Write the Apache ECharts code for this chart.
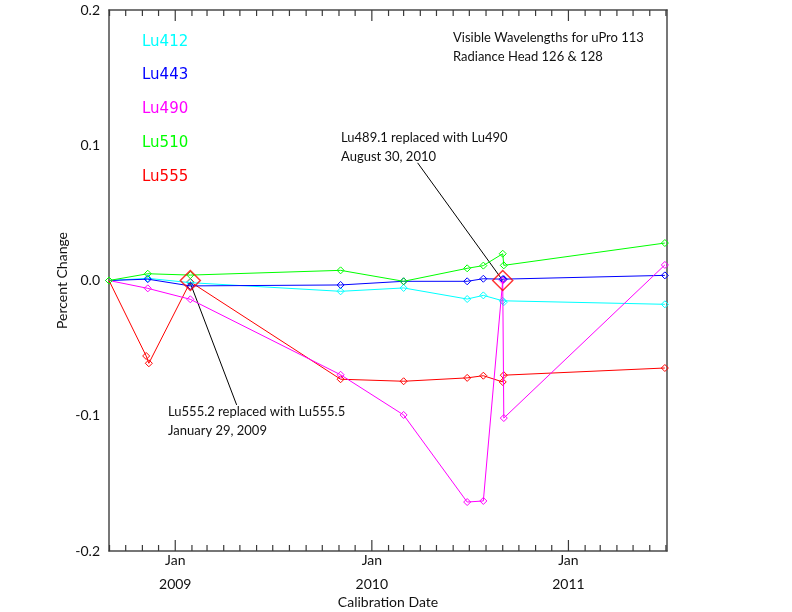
<!DOCTYPE html>
<html>
<head>
<meta charset="utf-8">
<script src="https://cdn.jsdelivr.net/npm/echarts@6/dist/echarts.min.js"></script>
<style>
html,body{margin:0;padding:0;background:#fff;}
#chart{width:792px;height:612px;}
</style>
</head>
<body>
<div id="chart"></div>
<script>
// ---- data ----
var dates = ['2008-08-31','2008-11-11','2009-01-29','2009-11-04','2010-03-01','2010-06-27','2010-07-27','2010-09-01','2010-09-03','2011-06-29'];
var lu412 = [0, 0.0016, -0.0016, -0.008, -0.0055, -0.0137, -0.011, -0.015, -0.016, -0.0176];
var lu443 = [0, 0.001, -0.004, -0.0033, -0.0006, -0.0006, 0.0013, 0.001, 0.001, 0.0038];
var lu490 = [0, -0.0058, -0.0139, -0.0697, -0.0994, -0.1638, -0.163, 0, -0.1017, 0.0115];
var lu510 = [0, 0.005, 0.004, 0.0075, -0.0006, 0.009, 0.011, 0.0198, 0.0112, 0.0277];
var redDates = ['2008-08-31','2008-11-08','2008-11-13','2009-01-29','2009-11-04','2010-03-01','2010-06-27','2010-07-27','2010-09-01','2010-09-03','2011-06-29'];
var lu555 = [0, -0.0558, -0.0612, -0.001, -0.073, -0.0745, -0.072, -0.0704, -0.075, -0.070, -0.0647];
var replaceDates = ['2009-01-29', '2010-09-01'];
var replaceValues = [0, 0];
var note1Line = [['2009-01-29', -0.002], ['2009-04-25', -0.092]];
var note2Line = [['2010-09-01', 0.0], ['2010-03-27', 0.087]];
var seriesNames = ['Lu412','Lu443','Lu490','Lu510','Lu555'];
var seriesColors = ['#00ffff','#0000ff','#ff00ff','#00ff00','#ff0000'];
var xMin = '2008-08-31', xMax = '2011-07-03';
var yMin = -0.2, yMax = 0.2, yStep = 0.1;
var janTicks = ['2009-01-01','2010-01-01','2011-01-01'];

// ---- helpers ----
function t(d) { return Date.parse(d + 'T00:00:00Z'); }
function pair(ds, vs){ return ds.map(function(d,i){ return [t(d), vs[i]]; }); }
var monthTicks = [];
for (var y = 2008; y <= 2011; y++) {
  for (var m = 1; m <= 12; m++) {
    var s = y + '-' + (m < 10 ? '0' + m : m) + '-01';
    if (s > xMin && s < xMax) monthTicks.push([t(s), yMin]);
  }
}
var janT = janTicks.map(t);
var FONT = 'Lato';
var axisColor = '#4a4a4a';

var series = [];
var valueArrays = [lu412, lu443, lu490, lu510];
for (var i = 0; i < 4; i++) {
  series.push({
    name: seriesNames[i], type: 'line', data: pair(dates, valueArrays[i]),
    symbol: 'diamond', symbolSize: 7, showAllSymbol: true,
    lineStyle: { color: seriesColors[i], width: 1 },
    itemStyle: { color: 'rgba(0,0,0,0)', borderColor: seriesColors[i], borderWidth: 1 },
    animation: false, z: 3 + i
  });
}
series.push({
  name: 'Lu555', type: 'line', data: pair(redDates, lu555),
  symbol: 'diamond', symbolSize: 7, showAllSymbol: true,
  lineStyle: { color: seriesColors[4], width: 1 },
  itemStyle: { color: 'rgba(0,0,0,0)', borderColor: seriesColors[4], borderWidth: 1 },
  animation: false, z: 2
});
series.push({
  name: 'replaced', type: 'scatter', data: pair(replaceDates, replaceValues),
  symbol: 'diamond', symbolSize: 20,
  itemStyle: { color: 'rgba(0,0,0,0)', borderColor: '#ff0000', borderWidth: 1.5 },
  animation: false, z: 10
});
[note1Line, note2Line].forEach(function (d) {
  series.push({
    type: 'line', data: d.map(function (p) { return [t(p[0]), p[1]]; }), symbol: 'none', silent: true,
    lineStyle: { color: '#000', width: 1 }, animation: false, z: 1
  });
});
// month ticks (top and bottom, inside), Jan ticks longer
series.push({
  type: 'custom', data: monthTicks,
  silent: true, clip: false, animation: false, z: 20,
  renderItem: function (params, api) {
    var v = api.value(0);
    var len = new Date(v).getUTCMonth() === 0 ? 11 : 6;
    var b = api.coord([v, yMin]);
    var tp = api.coord([v, yMax]);
    var st = { stroke: '#3a3a3a', lineWidth: 1.2 };
    return { type: 'group', children: [
      { type: 'line', shape: { x1: b[0], y1: b[1], x2: b[0], y2: b[1] - len }, style: st },
      { type: 'line', shape: { x1: tp[0], y1: tp[1], x2: tp[0], y2: tp[1] + len }, style: st }
    ] };
  }
});

var graphics = [];
var legendY = [40, 73, 107, 141, 175];
seriesNames.forEach(function (n, i) {
  graphics.push({ type: 'text', left: 142, top: legendY[i] - 5,
    style: { text: n, fill: seriesColors[i], font: '15px "DejaVu Sans"' } });
});
function note(x, y, lines) {
  graphics.push({ type: 'text', left: x, top: y,
    style: { text: lines.join('\n'), fill: '#111', font: '13px ' + FONT, lineHeight: 19 } });
}
note(453, 28, ['Visible Wavelengths for uPro 113', 'Radiance Head 126 & 128']);
note(341, 128, ['Lu489.1 replaced with Lu490', 'August 30, 2010']);
note(168, 402, ['Lu555.2 replaced with Lu555.5', 'January 29, 2009']);

var chart = echarts.init(document.getElementById('chart'), null, { renderer: 'canvas' });
chart.setOption({
  backgroundColor: '#fff',
  animation: false,
  grid: { left: 109, right: 125, top: 10, bottom: 61, containLabel: false, outerBoundsMode: 'none' },
  xAxis: [
    {
      type: 'value', position: 'bottom', min: t(xMin), max: t(xMax),
      axisLine: { show: true, onZero: false, lineStyle: { color: axisColor, width: 1.5 } },
      axisTick: { show: false },
      axisLabel: {
        show: true, customValues: janT, fontFamily: FONT, fontSize: 14, color: '#111',
        lineHeight: 24, margin: -3,
        formatter: function (v) { return 'Jan\n' + new Date(v).getUTCFullYear(); }
      },
      splitLine: { show: false },
      name: 'Calibration Date', nameLocation: 'middle', nameGap: 44, nameMoveOverlap: false,
      nameTextStyle: { fontFamily: FONT, fontSize: 14, color: '#111' }
    },
    {
      type: 'value', position: 'top', min: t(xMin), max: t(xMax),
      axisLine: { show: true, onZero: false, lineStyle: { color: axisColor, width: 1.5 } },
      axisTick: { show: false }, axisLabel: { show: false }, splitLine: { show: false }
    }
  ],
  yAxis: [
    {
      type: 'value', position: 'left', min: yMin, max: yMax, interval: yStep,
      axisLine: { show: true, onZero: false, lineStyle: { color: axisColor, width: 1.5 } },
      axisTick: { show: false }, splitLine: { show: false },
      axisLabel: { fontFamily: FONT, fontSize: 14, color: '#111', margin: 9,
        formatter: function (v) { return v.toFixed(1); } },
      name: 'Percent Change', nameLocation: 'middle', nameGap: 40, nameRotate: 90, nameMoveOverlap: false,
      nameTextStyle: { fontFamily: FONT, fontSize: 14, color: '#111' }
    },
    {
      type: 'value', position: 'right', min: yMin, max: yMax, interval: yStep,
      axisLine: { show: true, onZero: false, lineStyle: { color: axisColor, width: 1.5 } },
      axisTick: { show: false }, splitLine: { show: false }, axisLabel: { show: false }
    }
  ],
  series: series,
  graphic: graphics
});
</script>
</body>
</html>
